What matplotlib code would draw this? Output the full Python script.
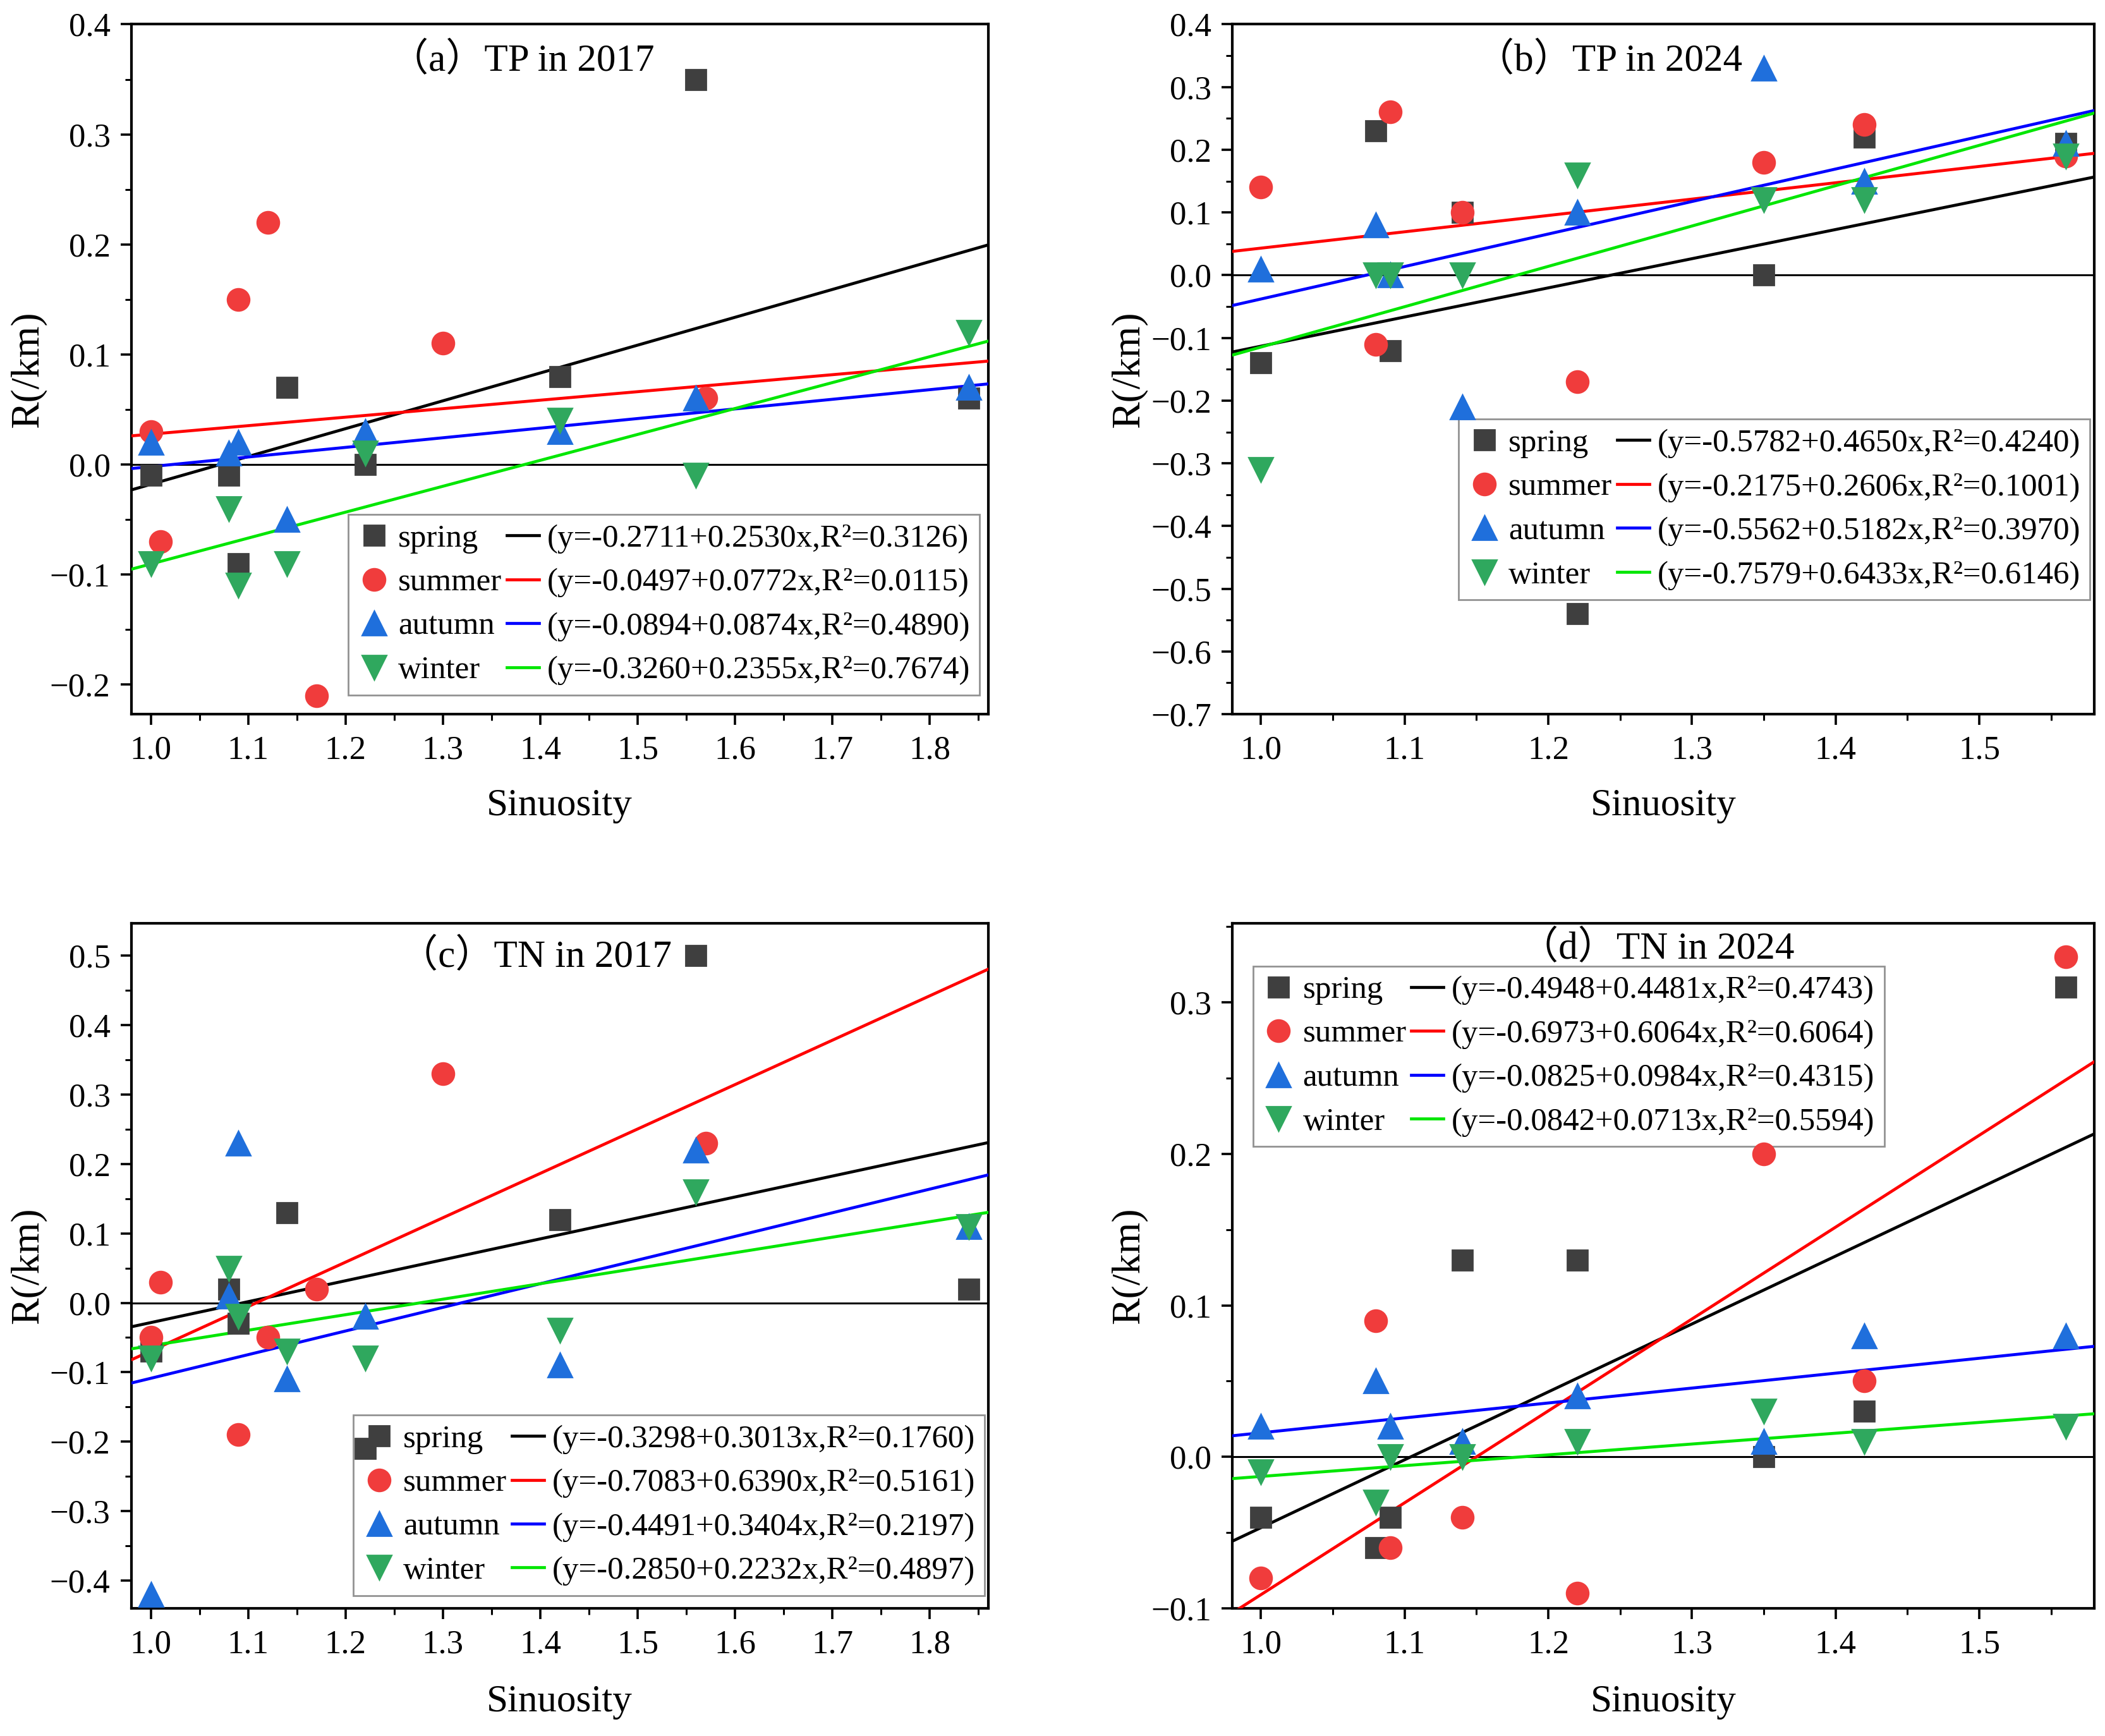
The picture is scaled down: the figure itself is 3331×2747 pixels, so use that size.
import numpy as np
import matplotlib
matplotlib.use('Agg')
import matplotlib.pyplot as plt
from matplotlib.ticker import MultipleLocator
from matplotlib.lines import Line2D

plt.rcParams['font.family'] = ['Liberation Serif', 'Noto Sans CJK SC']

seasons = ['spring', 'summer', 'autumn', 'winter']

# sinuosity of the sampling sites
x17 = [1.00, 1.08, 1.09, 1.14, 1.22, 1.42, 1.56, 1.84]
x17_summer = [1.00, 1.01, 1.09, 1.12, 1.17, 1.30, 1.57]
x24 = [1.00, 1.08, 1.09, 1.14, 1.22, 1.35, 1.42, 1.56]

# (a) TP in 2017
tp17_spring = [-0.01, -0.01, -0.09, 0.07, 0.00, 0.08, 0.35, 0.06]
tp17_summer = [0.03, -0.07, 0.15, 0.22, -0.21, 0.11, 0.06]
tp17_autumn = [0.02, 0.01, 0.02, -0.05, 0.03, 0.03, 0.06, 0.07]
tp17_winter = [-0.09, -0.04, -0.11, -0.09, 0.01, 0.04, -0.01, 0.12]
tp17_a = [-0.2711, -0.0497, -0.0894, -0.3260]
tp17_b = [0.2530, 0.0772, 0.0874, 0.2355]
tp17_r2 = [0.3126, 0.0115, 0.4890, 0.7674]

# (b) TP in 2024
tp24_spring = [-0.14, 0.23, -0.12, 0.10, -0.54, 0.00, 0.22, 0.21]
tp24_summer = [0.14, -0.11, 0.26, 0.10, -0.17, 0.18, 0.24, 0.19]
tp24_autumn = [0.01, 0.08, 0.00, -0.21, 0.10, 0.33, 0.15, 0.21]
tp24_winter = [-0.31, 0.00, 0.00, 0.00, 0.16, 0.12, 0.12, 0.19]
tp24_a = [-0.5782, -0.2175, -0.5562, -0.7579]
tp24_b = [0.4650, 0.2606, 0.5182, 0.6433]
tp24_r2 = [0.4240, 0.1001, 0.3970, 0.6146]

# (c) TN in 2017
tn17_spring = [-0.07, 0.02, -0.03, 0.13, -0.21, 0.12, 0.50, 0.02]
tn17_summer = [-0.05, 0.03, -0.19, -0.05, 0.02, 0.33, 0.23]
tn17_autumn = [-0.42, 0.01, 0.23, -0.11, -0.02, -0.09, 0.22, 0.11]
tn17_winter = [-0.08, 0.05, -0.02, -0.07, -0.08, -0.04, 0.16, 0.11]
tn17_a = [-0.3298, -0.7083, -0.4491, -0.2850]
tn17_b = [0.3013, 0.6390, 0.3404, 0.2232]
tn17_r2 = [0.1760, 0.5161, 0.2197, 0.4897]

# (d) TN in 2024
tn24_spring = [-0.04, -0.06, -0.04, 0.13, 0.13, 0.00, 0.03, 0.31]
tn24_summer = [-0.08, 0.09, -0.06, -0.04, -0.09, 0.20, 0.05, 0.33]
tn24_autumn = [0.02, 0.05, 0.02, 0.01, 0.04, 0.01, 0.08, 0.08]
tn24_winter = [-0.01, -0.03, 0.00, 0.00, 0.01, 0.03, 0.01, 0.02]
tn24_a = [-0.4948, -0.6973, -0.0825, -0.0842]
tn24_b = [0.4481, 0.6064, 0.0984, 0.0713]
tn24_r2 = [0.4743, 0.6064, 0.4315, 0.5594]

markers = ['s', 'o', '^', 'v']
msizes = [11.5, 12.5, 14, 14]
mcolors = ['#3f3f3f', '#f03c3c', '#1f6fdc', '#2fa85e']
lcolors = ['#000000', '#ff0000', '#0000ff', '#00e600']


def panel(ax, title, xs, ys, a, b, r2, xlim, ylim, yticks, xticks,
          leg_loc, leg_anchor, title_pos, xlabelpad):
    for i in range(4):
        ax.plot(xs[i], ys[i], linestyle='none', marker=markers[i],
                ms=msizes[i], color=mcolors[i], zorder=4)
    xl = np.array(xlim)
    for i in range(4):
        ax.plot(xl, a[i] + b[i] * xl, color=lcolors[i], lw=1.7, zorder=3)
    ax.axhline(0, color='black', lw=1.1, zorder=2)
    ax.set_xlim(*xlim)
    ax.set_ylim(*ylim)
    ax.set_xticks(xticks)
    ax.set_yticks(yticks)
    ax.xaxis.set_minor_locator(MultipleLocator(0.05))
    ax.yaxis.set_minor_locator(MultipleLocator(0.05))
    ax.set_xticklabels([f'{v:.1f}' for v in xticks])
    ax.set_yticklabels([f'{v:.1f}'.replace('-', '\u2212') for v in yticks])
    ax.tick_params(which='major', direction='out', length=6, width=1.3,
                   labelsize=19, pad=6)
    ax.tick_params(which='minor', direction='out', length=3.5, width=1.1)
    for s in ax.spines.values():
        s.set_linewidth(1.5)
    ax.set_xlabel('Sinuosity', fontsize=22, labelpad=xlabelpad)
    ax.set_ylabel('R(/km)', fontsize=23, labelpad=2)
    ax.text(title_pos[0], title_pos[1], title, transform=ax.transAxes,
            ha='center', va='center', fontsize=22)

    handles = [Line2D([], [], linestyle='none', marker=markers[i],
                      ms=msizes[i], color=mcolors[i]) for i in range(4)]
    handles += [Line2D([], [], color=lcolors[i], lw=1.7) for i in range(4)]
    labels = list(seasons)
    labels += [f'(y={a[i]:.4f}+{b[i]:.4f}x,R²={r2[i]:.4f})' for i in range(4)]
    leg = ax.legend(handles, labels, ncol=2, loc=leg_loc,
                    bbox_to_anchor=leg_anchor, fontsize=18.3, frameon=True,
                    fancybox=False, edgecolor='#777777', handlelength=1.0,
                    handletextpad=0.25, columnspacing=0.15, labelspacing=0.45,
                    borderpad=0.3, borderaxespad=0.0)
    leg.get_frame().set_linewidth(1.0)
    leg.set_zorder(1.5)


fig = plt.figure(figsize=(16.655, 13.735), dpi=200)
ax_a = fig.add_axes([0.0624, 0.5886, 0.407, 0.3974])
ax_b = fig.add_axes([0.5854, 0.5886, 0.4095, 0.3974])
ax_c = fig.add_axes([0.0624, 0.0735, 0.407, 0.3945])
ax_d = fig.add_axes([0.5854, 0.0735, 0.4095, 0.3945])

xt17 = [1.0, 1.1, 1.2, 1.3, 1.4, 1.5, 1.6, 1.7, 1.8]
xt24 = [1.0, 1.1, 1.2, 1.3, 1.4, 1.5]

panel(ax_a, '（a）TP in 2017',
      [x17, x17_summer, x17, x17],
      [tp17_spring, tp17_summer, tp17_autumn, tp17_winter],
      tp17_a, tp17_b, tp17_r2, (0.98, 1.86), (-0.227, 0.4),
      [-0.2, -0.1, 0.0, 0.1, 0.2, 0.3, 0.4], xt17,
      'lower right', (0.99, 0.028), (0.456, 0.947), 13)

panel(ax_b, '（b）TP in 2024',
      [x24, x24, x24, x24],
      [tp24_spring, tp24_summer, tp24_autumn, tp24_winter],
      tp24_a, tp24_b, tp24_r2, (0.98, 1.58), (-0.7, 0.4),
      [-0.7, -0.6, -0.5, -0.4, -0.3, -0.2, -0.1, 0.0, 0.1, 0.2, 0.3, 0.4], xt24,
      'lower right', (0.995, 0.166), (0.437, 0.947), 13)

panel(ax_c, '（c）TN in 2017',
      [x17, x17_summer, x17, x17],
      [tn17_spring, tn17_summer, tn17_autumn, tn17_winter],
      tn17_a, tn17_b, tn17_r2, (0.98, 1.86), (-0.44, 0.546),
      [-0.4, -0.3, -0.2, -0.1, 0.0, 0.1, 0.2, 0.3, 0.4, 0.5], xt17,
      'lower right', (0.996, 0.019), (0.472, 0.951), 14)

panel(ax_d, '（d）TN in 2024',
      [x24, x24, x24, x24],
      [tn24_spring, tn24_summer, tn24_autumn, tn24_winter],
      tn24_a, tn24_b, tn24_r2, (0.98, 1.58), (-0.1, 0.352),
      [-0.1, 0.0, 0.1, 0.2, 0.3], xt24,
      'upper left', (0.024, 0.938), (0.493, 0.963), 14)

fig.savefig('out.png', dpi=200)
